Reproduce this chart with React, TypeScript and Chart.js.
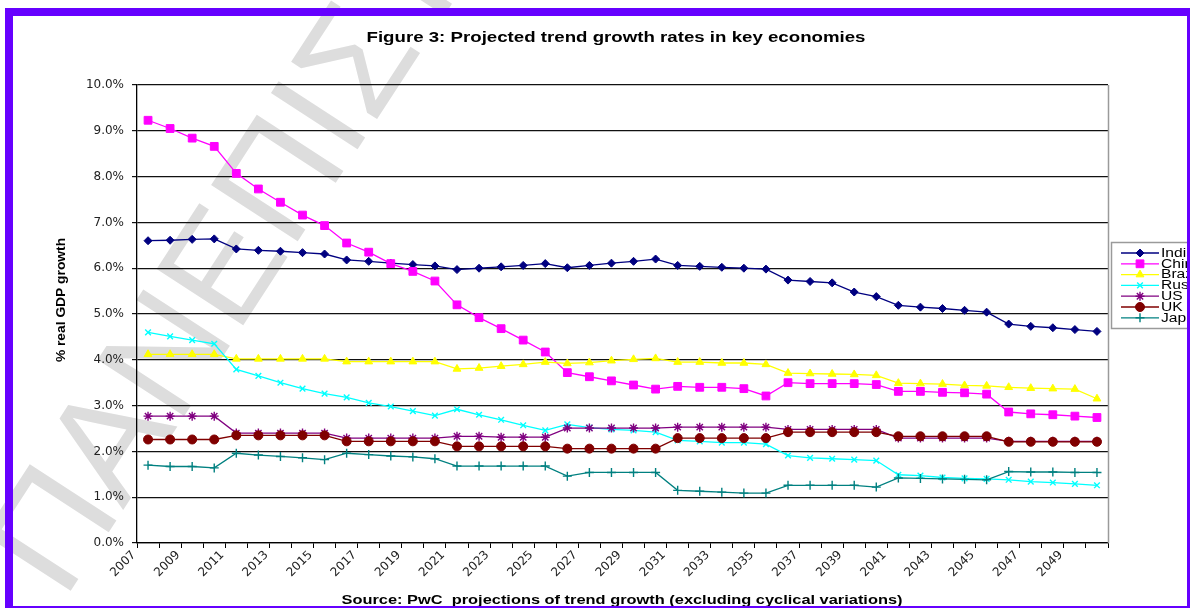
import React, { useEffect, useRef } from 'react';
import { Chart, registerables } from 'chart.js';
import { drawPoint } from 'chart.js/helpers';

Chart.register(...registerables);

const years = ['2007','2008','2009','2010','2011','2012','2013','2014','2015','2016','2017','2018','2019','2020','2021','2022','2023','2024','2025','2026','2027','2028','2029','2030','2031','2032','2033','2034','2035','2036','2037','2038','2039','2040','2041','2042','2043','2044','2045','2046','2047','2048','2049','2050'];

const yTickLabels = ['0.0%','1.0%','2.0%','3.0%','4.0%','5.0%','6.0%','7.0%','8.0%','9.0%','10.0%'];

const india = [6.60,6.61,6.63,6.64,6.42,6.39,6.37,6.34,6.31,6.18,6.15,6.11,6.08,6.05,5.97,6.00,6.03,6.06,6.10,6.01,6.06,6.11,6.15,6.20,6.06,6.04,6.02,6.00,5.98,5.74,5.71,5.68,5.48,5.38,5.19,5.15,5.12,5.08,5.04,4.78,4.73,4.70,4.66,4.62];
const china = [9.23,9.05,8.84,8.66,8.07,7.73,7.44,7.16,6.93,6.55,6.35,6.10,5.93,5.72,5.20,4.92,4.68,4.43,4.17,3.72,3.63,3.54,3.45,3.36,3.42,3.40,3.40,3.37,3.21,3.50,3.48,3.48,3.48,3.46,3.31,3.31,3.29,3.28,3.25,2.86,2.82,2.80,2.77,2.74];
const brazil = [4.12,4.12,4.12,4.12,4.02,4.02,4.02,4.02,4.02,3.96,3.96,3.96,3.96,3.96,3.80,3.82,3.86,3.90,3.95,3.92,3.94,3.98,4.01,4.03,3.95,3.95,3.93,3.93,3.90,3.71,3.70,3.69,3.68,3.66,3.49,3.48,3.47,3.44,3.43,3.40,3.38,3.37,3.36,3.15];
const russia = [4.60,4.51,4.43,4.35,3.79,3.65,3.50,3.37,3.26,3.18,3.06,2.98,2.88,2.78,2.92,2.80,2.69,2.57,2.46,2.59,2.52,2.48,2.46,2.42,2.24,2.22,2.19,2.19,2.16,1.91,1.86,1.84,1.82,1.80,1.49,1.47,1.43,1.41,1.40,1.38,1.34,1.32,1.29,1.26];
const us = [2.77,2.77,2.77,2.77,2.40,2.40,2.40,2.40,2.40,2.29,2.29,2.29,2.29,2.29,2.33,2.33,2.31,2.31,2.31,2.51,2.51,2.51,2.51,2.51,2.53,2.53,2.53,2.53,2.53,2.48,2.48,2.48,2.48,2.48,2.29,2.29,2.29,2.29,2.29,2.22,2.22,2.22,2.22,2.22];
const uk = [2.26,2.26,2.26,2.26,2.35,2.35,2.35,2.35,2.35,2.22,2.22,2.22,2.22,2.22,2.11,2.11,2.11,2.11,2.11,2.06,2.06,2.06,2.06,2.06,2.29,2.29,2.29,2.29,2.29,2.42,2.42,2.42,2.42,2.42,2.33,2.33,2.33,2.33,2.33,2.21,2.21,2.21,2.21,2.21];
const japan = [1.70,1.67,1.67,1.64,1.96,1.92,1.89,1.86,1.82,1.96,1.93,1.90,1.88,1.84,1.68,1.68,1.68,1.68,1.68,1.46,1.54,1.54,1.54,1.54,1.15,1.13,1.11,1.09,1.09,1.26,1.26,1.26,1.26,1.22,1.42,1.41,1.40,1.39,1.38,1.56,1.55,1.55,1.54,1.54];

const seriesNames = ['India', 'China', 'Brazil', 'Russia', 'US', 'UK', 'Japan'];
const seriesData = [india, china, brazil, russia, us, uk, japan];
const seriesColors = ['#000080', '#ff00ff', '#ffff00', '#00ffff', '#800080', '#800000', '#008080'];
const seriesStyles = ['rectRot', 'rect', 'triangle', 'crossRot', 'star', 'circle', 'cross'];
const seriesRadius = [4, 5.5, 4.5, 4, 4.5, 4.5, 4.5];

const titleText = 'Figure 3: Projected trend growth rates in key economies';
const sourceText = 'Source: PwC  projections of trend growth (excluding cyclical variations)';
const yTitleText = '% real GDP growth';
const watermarkText = 'ΠΑΝΕΠΙΣΤΗΜΙΟ';

const FONT = '"Liberation Sans", Arial, sans-serif';
const TICKFONT = '"DejaVu Sans", sans-serif';

function stretchedText(ctx: CanvasRenderingContext2D, text: string, x: number, y: number, sx: number, align: CanvasTextAlign) {
  ctx.save();
  ctx.translate(x, y);
  ctx.scale(sx, 1);
  ctx.textAlign = align;
  ctx.fillText(text, 0, 0);
  ctx.restore();
}

function fitText(ctx: CanvasRenderingContext2D, text: string, cx: number, cy: number, width: number) {
  const w = ctx.measureText(text).width;
  stretchedText(ctx, text, cx, cy, width / w, 'center');
}

const decorPlugin = {
  id: 'decor',
  beforeDraw(chart: any) {
    const ctx = chart.ctx;
    ctx.save();
    ctx.fillStyle = '#ffffff';
    ctx.fillRect(0, 0, chart.width, chart.height);
    ctx.translate(64, 601);
    ctx.rotate((-57 * Math.PI) / 180);
    ctx.font = `150px ${FONT}`;
    ctx.fillStyle = '#dddddd';
    ctx.textBaseline = 'alphabetic';
    ctx.fillText(watermarkText, 0, 0);
    ctx.restore();
  },
  afterDraw(chart: any) {
    const ctx = chart.ctx;
    const area = chart.chartArea;
    ctx.save();
    ctx.strokeStyle = '#9a9a9a';
    ctx.lineWidth = 1.5;
    ctx.beginPath();
    ctx.moveTo(Math.round(area.right) + 0.5, area.top);
    ctx.lineTo(Math.round(area.right) + 0.5, area.bottom);
    ctx.stroke();

    ctx.fillStyle = '#000';
    ctx.textBaseline = 'middle';
    ctx.font = `bold 15px ${FONT}`;
    fitText(ctx, titleText, 616, 38, 499);
    ctx.font = `bold 13px ${FONT}`;
    fitText(ctx, sourceText, 622, 600, 561);

    ctx.save();
    ctx.translate(62, 300);
    ctx.rotate(-Math.PI / 2);
    ctx.font = `bold 12px ${FONT}`;
    stretchedText(ctx, yTitleText, 0, 0, 1.15, 'center');
    ctx.restore();

    const lx = 1111;
    const ly = 242;
    ctx.strokeStyle = '#9a9a9a';
    ctx.lineWidth = 1.5;
    ctx.fillStyle = '#ffffff';
    ctx.fillRect(lx, ly, 200, 86);
    ctx.strokeRect(lx + 0.5, ly + 0.5, 200, 86);
    chart.data.datasets.forEach((ds: any, i: number) => {
      const y = 253 + i * 10.8;
      ctx.strokeStyle = ds.borderColor;
      ctx.lineWidth = 1.3;
      ctx.beginPath();
      ctx.moveTo(1121, y);
      ctx.lineTo(1159, y);
      ctx.stroke();
      ctx.fillStyle = ds.pointBackgroundColor;
      ctx.strokeStyle = ds.pointBorderColor;
      ctx.lineWidth = ds.pointBorderWidth;
      drawPoint(ctx, { pointStyle: ds.pointStyle, radius: ds.pointRadius, borderWidth: ds.pointBorderWidth, rotation: 0 }, 1140, y);
      ctx.fillStyle = '#000';
      ctx.textBaseline = 'middle';
      ctx.font = `12px ${FONT}`;
      stretchedText(ctx, ds.label, 1161, y + 0.5, 1.3, 'left');
    });
    ctx.restore();
  },
};

export default function App() {
  const canvasRef = useRef<HTMLCanvasElement | null>(null);

  useEffect(() => {
    if (!canvasRef.current) return;
    const datasets = seriesNames.map((name, i) => ({
      label: name,
      data: seriesData[i],
      borderColor: seriesColors[i],
      backgroundColor: seriesColors[i],
      pointBackgroundColor: seriesColors[i],
      pointBorderColor: seriesColors[i],
      pointBorderWidth: seriesStyles[i] === 'cross' || seriesStyles[i] === 'crossRot' || seriesStyles[i] === 'star' ? 1.4 : 1,
      pointStyle: seriesStyles[i],
      pointRadius: seriesRadius[i],
      borderWidth: 1.3,
      tension: 0,
      fill: false,
      order: 7 - i,
    }));

    const chart = new Chart(canvasRef.current, {
      type: 'line',
      data: { labels: years, datasets },
      plugins: [decorPlugin],
      options: {
        animation: false,
        responsive: false,
        maintainAspectRatio: false,
        devicePixelRatio: 1,
        layout: { padding: { left: 0, top: 85, right: 82, bottom: 0 } },
        plugins: {
          legend: { display: false },
          title: { display: false },
          tooltip: { enabled: false },
        },
        scales: {
          x: {
            type: 'category',
            offset: true,
            grid: {
              display: true,
              offset: true,
              drawOnChartArea: false,
              drawTicks: true,
              tickLength: 5,
              color: '#000',
              lineWidth: 1,
            },
            border: { display: true, color: '#000', width: 1.3 },
            ticks: {
              autoSkip: false,
              maxRotation: 45,
              minRotation: 45,
              padding: 0,
              labelOffset: -14,
              color: '#222',
              font: { family: TICKFONT, size: 12 },
              callback: (_v: any, index: number) => (index % 2 === 0 ? years[index] : ''),
            },
            afterFit: (scale: any) => {
              scale.height = 65;
            },
          },
          y: {
            min: 0,
            max: 10,
            grid: {
              color: '#111',
              lineWidth: 1.2,
              drawTicks: true,
              tickLength: 5,
            },
            border: { display: true, color: '#000', width: 1.3 },
            ticks: {
              stepSize: 1,
              padding: 8,
              color: '#222',
              font: { family: TICKFONT, size: 12 },
              callback: (_v: any, index: number) => yTickLabels[index],
            },
            afterFit: (scale: any) => {
              scale.width = 137;
            },
          },
        },
      },
    });
    return () => chart.destroy();
  }, []);

  return (
    <div style={{ position: 'fixed', left: 0, top: 0, width: 1190, height: 608, overflow: 'hidden', background: '#fff' }}>
      <canvas ref={canvasRef} width={1190} height={608} style={{ display: 'block', width: 1190, height: 608 }} />
      <div
        style={{
          position: 'absolute',
          left: 5,
          top: 8,
          width: 1190,
          height: 606,
          border: '8px solid #6600ff',
          boxSizing: 'border-box',
          pointerEvents: 'none',
        }}
      />
    </div>
  );
}
